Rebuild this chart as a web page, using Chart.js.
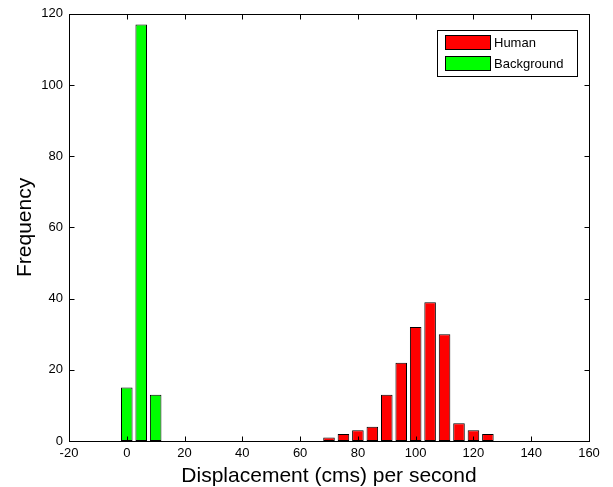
<!DOCTYPE html>
<html>
<head>
<meta charset="utf-8">
<script src="https://cdn.jsdelivr.net/npm/chart.js@4.4.1/dist/chart.umd.min.js"></script>
<style>
html,body{margin:0;padding:0;background:#fff;}
#wrap{width:613px;height:487px;}
</style>
</head>
<body>
<div id="wrap"><canvas id="c" width="613" height="487"></canvas></div>
<script>
const seriesNames = ['Human', 'Background'];
const humanBins = [70, 75, 80, 85, 90, 95, 100, 105, 110, 115, 120, 125];
const humanCounts = [1, 2, 3, 4, 13, 22, 32, 39, 30, 5, 3, 2];
const backgroundBins = [0, 5, 10];
const backgroundCounts = [15, 117, 13];
const xTicks = [-20, 0, 20, 40, 60, 80, 100, 120, 140, 160];
const yTicks = [0, 20, 40, 60, 80, 100, 120];

const toPoints = (xs, ys) => xs.map((x, i) => ({x: x, y: ys[i]}));

const FONT = "'Liberation Sans', Arial, Helvetica, sans-serif";

const framePlugin = {
  id: 'frame',
  afterDraw(chart) {
    const ctx = chart.ctx;
    const a = chart.chartArea;
    const xs = chart.scales.x, ys = chart.scales.y;
    ctx.save();
    ctx.strokeStyle = '#000';
    ctx.lineWidth = 1;
    const L = Math.round(a.left) + 0.5, R = Math.round(a.right) + 0.5;
    const T = Math.round(a.top) + 0.5, B = Math.round(a.bottom) + 0.5;
    ctx.strokeRect(L, T, R - L, B - T);
    const tl = 5;
    ctx.beginPath();
    xTicks.forEach(v => {
      const px = Math.round(xs.getPixelForValue(v)) + 0.5;
      ctx.moveTo(px, B); ctx.lineTo(px, B - tl);
      ctx.moveTo(px, T); ctx.lineTo(px, T + tl);
    });
    yTicks.forEach(v => {
      const py = Math.round(ys.getPixelForValue(v)) + 0.5;
      ctx.moveTo(L, py); ctx.lineTo(L + tl, py);
      ctx.moveTo(R, py); ctx.lineTo(R - tl, py);
    });
    ctx.stroke();

    // legend box
    const bx = 437.5, by = 30.5, bw = 140, bh = 46;
    ctx.fillStyle = '#fff';
    ctx.fillRect(bx, by, bw, bh);
    ctx.strokeRect(bx, by, bw, bh);
    ctx.font = '13px ' + FONT;
    ctx.textBaseline = 'middle';
    ctx.textAlign = 'left';
    chart.data.datasets.forEach((ds, i) => {
      const sy = 35.5 + i * 21;
      ctx.fillStyle = ds.backgroundColor;
      ctx.fillRect(445.5, sy, 45, 14);
      ctx.strokeStyle = '#000';
      ctx.strokeRect(445.5, sy, 45, 14);
      ctx.fillStyle = '#000';
      ctx.fillText(ds.label, 494, sy + 7.5);
    });
    ctx.restore();
  }
};

new Chart(document.getElementById('c'), {
  type: 'bar',
  data: {
    datasets: [
      {
        label: seriesNames[0],
        data: toPoints(humanBins, humanCounts),
        backgroundColor: '#ff0000',
        borderColor: '#000000',
        borderWidth: 1,
        borderSkipped: false,
        grouped: false,
        categoryPercentage: 1.0,
        barPercentage: 0.8
      },
      {
        label: seriesNames[1],
        data: toPoints(backgroundBins, backgroundCounts),
        backgroundColor: '#00ff00',
        borderColor: '#000000',
        borderWidth: 1,
        borderSkipped: false,
        grouped: false,
        categoryPercentage: 1.0,
        barPercentage: 0.8
      }
    ]
  },
  options: {
    responsive: false,
    animation: false,
    layout: { padding: { left: 13, right: 24, top: 13, bottom: 0 } },
    plugins: { legend: { display: false }, tooltip: { enabled: false } },
    scales: {
      x: {
        type: 'linear',
        min: -20, max: 160,
        offset: false,
        afterBuildTicks: s => { s.ticks = xTicks.map(v => ({value: v})); },
        afterFit: s => { s.height = 46; },
        grid: { display: false, drawTicks: false },
        border: { display: false },
        ticks: { color: '#000', font: { family: FONT, size: 13 }, padding: 5, maxRotation: 0, autoSkip: false },
        title: { display: true, text: 'Displacement (cms) per second', color: '#000', font: { family: FONT, size: 21, lineHeight: 1.0 }, padding: 0 }
      },
      y: {
        type: 'linear',
        min: 0, max: 120,
        afterBuildTicks: s => { s.ticks = yTicks.map(v => ({value: v})); },
        afterFit: s => { s.width = 56; },
        grid: { display: false, drawTicks: false },
        border: { display: false },
        ticks: { color: '#000', font: { family: FONT, size: 13 }, padding: 6, autoSkip: false },
        title: { display: true, text: 'Frequency', color: '#000', font: { family: FONT, size: 21 }, padding: 0 }
      }
    }
  },
  plugins: [framePlugin]
});
</script>
</body>
</html>
